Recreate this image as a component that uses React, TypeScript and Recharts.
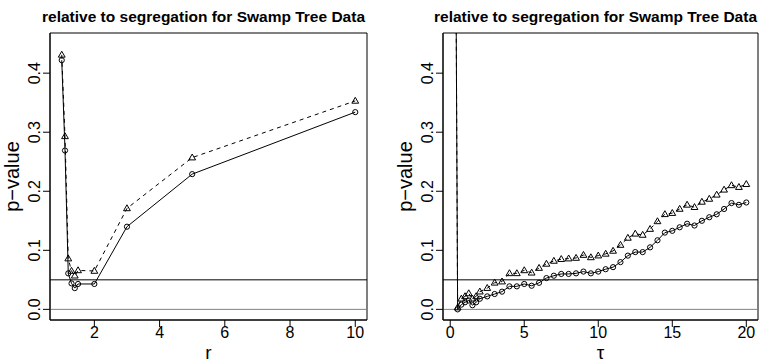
import React from 'react'
import { LineChart, Line, XAxis, YAxis, ReferenceLine, ReferenceArea } from 'recharts'

const FONT = '"Liberation Sans", Arial, Helvetica, sans-serif'
const TITLE = 'relative to segregation for Swamp Tree Data'

// left panel: p-value against r
const rValues = [1, 1.1, 1.2, 1.3, 1.4, 1.5, 2, 3, 5, 10]
const rCircle = [0.422, 0.269, 0.061, 0.044, 0.036, 0.043, 0.043, 0.14, 0.229, 0.334]
const rTriangle = [0.431, 0.293, 0.086, 0.065, 0.057, 0.066, 0.065, 0.171, 0.257, 0.353]
const rTicks = [2, 4, 6, 8, 10]

// right panel: p-value against tau (first point sits far above the plot)
const tauValues = [
  0.3, 0.5, 0.75, 1, 1.25, 1.5, 1.75, 2, 2.5, 3, 3.5, 4, 4.5, 5, 5.5, 6, 6.5, 7, 7.5, 8, 8.5, 9,
  9.5, 10, 10.5, 11, 11.5, 12, 12.5, 13, 13.5, 14, 14.5, 15, 15.5, 16, 16.5, 17, 17.5, 18, 18.5,
  19, 19.5, 20,
]
const tauCircle = [
  1, 0, 0.008, 0.012, 0.015, 0.007, 0.012, 0.018, 0.022, 0.026, 0.03, 0.039, 0.039, 0.043, 0.04,
  0.045, 0.053, 0.057, 0.06, 0.06, 0.061, 0.064, 0.061, 0.064, 0.068, 0.0715, 0.08, 0.091, 0.097,
  0.097, 0.105, 0.117, 0.13, 0.133, 0.139, 0.145, 0.142, 0.15, 0.156, 0.161, 0.17, 0.18, 0.177,
  0.181,
]
const tauTriangle = [
  1, 0.003, 0.018, 0.022, 0.027, 0.018, 0.022, 0.03, 0.036, 0.045, 0.047, 0.061, 0.061, 0.066,
  0.062, 0.07, 0.077, 0.082, 0.085, 0.086, 0.087, 0.092, 0.088, 0.091, 0.094, 0.099, 0.109, 0.121,
  0.128, 0.126, 0.136, 0.149, 0.161, 0.163, 0.17, 0.177, 0.173, 0.182, 0.187, 0.194, 0.2025, 0.21,
  0.207, 0.212,
]
const tauTicks = [0, 5, 10, 15, 20]

const pTicks = [0, 0.1, 0.2, 0.3, 0.4]
const pDomain = [-0.018, 0.468]

const leftData = rValues.map((x, i) => ({ x, circle: rCircle[i], triangle: rTriangle[i] }))
const rightData = tauValues.map((x, i) => ({ x, circle: tauCircle[i], triangle: tauTriangle[i] }))

function CircleDot(p: any) {
  if (p.cx == null || p.cy == null) return null
  return <circle key={`c-${p.index}`} cx={p.cx} cy={p.cy} r={2.6} fill="none" stroke="#000" strokeWidth={1} />
}

function TriangleDot(p: any) {
  if (p.cx == null || p.cy == null) return null
  const { cx, cy } = p
  const d = `M${cx},${cy - 3.6} L${cx + 3.4},${cy + 2.3} L${cx - 3.4},${cy + 2.3} Z`
  return <path key={`t-${p.index}`} d={d} fill="none" stroke="#000" strokeWidth={1} />
}

function YTick(p: any) {
  const { x, y, payload } = p
  return (
    <text x={x} y={y} transform={`rotate(-90, ${x}, ${y})`} textAnchor="middle" fontSize={16} fontFamily={FONT} fill="#000">
      {Number(payload.value).toFixed(1)}
    </text>
  )
}

function YTitle(p: any) {
  const vb = p.viewBox
  const x = vb.x + vb.width - 31
  const y = vb.y + vb.height / 2
  return (
    <text x={x} y={y} transform={`rotate(-90, ${x}, ${y})`} textAnchor="middle" fontSize={20} fontFamily={FONT} fill="#000">
      p−value
    </text>
  )
}

function XTitle(p: any) {
  const vb = p.viewBox
  return (
    <text x={vb.x + vb.width / 2} y={vb.y + 39} textAnchor="middle" fontSize={19} fontFamily={FONT} fill="#000">
      {p.text}
    </text>
  )
}

interface PanelProps {
  data: { x: number; circle: number; triangle: number }[]
  xDomain: number[]
  xTicks: number[]
  xLabel: string
  yWidth: number
  right: number
}

function Panel({ data, xDomain, xTicks, xLabel, yWidth, right }: PanelProps) {
  const plotW = 384 - yWidth - right
  return (
    <div style={{ position: 'relative', width: 384, height: 362 }}>
      <div
        style={{
          position: 'absolute',
          left: yWidth - 30,
          width: plotW + 50,
          top: 8,
          textAlign: 'center',
          fontFamily: FONT,
          fontWeight: 'bold',
          fontSize: 15.5,
          lineHeight: '18px',
          color: '#000',
          whiteSpace: 'nowrap',
        }}
      >
        {TITLE}
      </div>
      <LineChart width={384} height={362} data={data} margin={{ top: 33, right, bottom: 0, left: 0 }}>
        <XAxis
          dataKey="x"
          type="number"
          domain={xDomain}
          ticks={xTicks}
          interval={0}
          allowDataOverflow
          height={42}
          tickSize={7}
          tickMargin={0}
          axisLine={{ stroke: '#000' }}
          tickLine={{ stroke: '#000' }}
          tick={{ fontSize: 16, fill: '#000', fontFamily: FONT }}
          label={<XTitle text={xLabel} />}
        />
        <YAxis
          type="number"
          domain={pDomain}
          ticks={pTicks}
          interval={0}
          allowDataOverflow
          width={yWidth}
          tickSize={7}
          tickMargin={3}
          axisLine={{ stroke: '#000' }}
          tickLine={{ stroke: '#000' }}
          tick={(p: any) => <YTick {...p} />}
          label={<YTitle />}
        />
        <ReferenceArea x1={xDomain[0]} x2={xDomain[1]} y1={pDomain[0]} y2={pDomain[1]} fill="none" stroke="#000" strokeWidth={1} fillOpacity={0} />
        <ReferenceLine y={0} stroke="#808080" strokeWidth={1} />
        <ReferenceLine y={0.05} stroke="#000" strokeWidth={1} />
        <Line
          dataKey="circle"
          type="linear"
          stroke="#000"
          strokeWidth={1}
          dot={CircleDot}
          activeDot={false}
          isAnimationActive={false}
        />
        <Line
          dataKey="triangle"
          type="linear"
          stroke="#000"
          strokeWidth={1}
          strokeDasharray="4 4"
          dot={TriangleDot}
          activeDot={false}
          isAnimationActive={false}
        />
      </LineChart>
    </div>
  )
}

export default function App() {
  return (
    <div style={{ position: 'absolute', left: 0, top: 0, width: 768, height: 362, background: '#fff', display: 'flex' }}>
      <Panel data={leftData} xDomain={[0.64, 10.36]} xTicks={rTicks} xLabel="r" yWidth={50} right={17} />
      <Panel data={rightData} xDomain={[-0.488, 20.79]} xTicks={tauTicks} xLabel="τ" yWidth={59} right={10} />
    </div>
  )
}
